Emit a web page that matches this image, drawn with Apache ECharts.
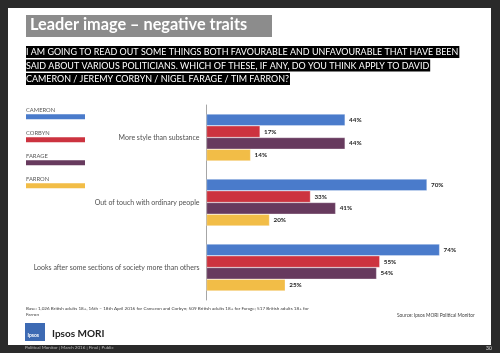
<!DOCTYPE html>
<html>
<head>
<meta charset="utf-8">
<script src="https://cdn.jsdelivr.net/npm/echarts@6/dist/echarts.min.js"></script>
<style>
    html, body { margin: 0; padding: 0; background: #2a2a2a; }
    #chart { width: 500px; height: 353px; }
</style>
</head>
<body>
<div id="chart"></div>
<script>
var traits = ['More style than substance', 'Out of touch with ordinary people', 'Looks after some sections of society more than others'];
var leaders = ['CAMERON', 'CORBYN', 'FARAGE', 'FARRON'];
var cameron = [44, 70, 74];
var corbyn = [17, 33, 55];
var farage = [44, 41, 54];
var farron = [14, 20, 25];
var colors = ['#4a7bcb', '#cc333f', '#673a5e', '#f2bd47'];

var chart = echarts.init(document.getElementById('chart'));

// legend drawn by hand: name above a flat swatch
var legendGraphics = [];
leaders.forEach(function(name, i) {
    var y = 107 + i * 23;
    legendGraphics.push({
        type: 'text', left: 26, top: y,
        style: { text: name, fill: '#595959', font: '5.8px Lato' }
    });
    legendGraphics.push({
        type: 'rect', shape: { x: 26, y: y + 7.3, width: 59, height: 5 },
        style: { fill: colors[i] }
    });
});

var subtitle = [
    'I AM GOING TO READ OUT SOME THINGS BOTH FAVOURABLE AND UNFAVOURABLE THAT HAVE BEEN',
    'SAID ABOUT VARIOUS POLITICIANS. WHICH OF THESE, IF ANY, DO YOU THINK APPLY TO DAVID',
    'CAMERON / JEREMY CORBYN / NIGEL FARAGE / TIM FARRON?'
];
var subGraphics = subtitle.map(function(line, i) {
    return {
        type: 'text', left: 26, top: 46 + i * 13.5,
        style: {
            text: line, fill: '#fff', font: '8.95px Lato',
            backgroundColor: '#000', padding: [1.8, 1, 1.2, 0]
        }
    };
});

var series = [cameron, corbyn, farage, farron].map(function(d, i) {
    return {
        name: leaders[i],
        type: 'bar',
        data: d,
        barWidth: 11.7,
        barGap: '0%',
        itemStyle: { color: colors[i], borderColor: 'rgba(255,255,255,0.6)', borderWidth: 0.5 },
        label: {
            show: true, position: 'right', distance: 4,
            formatter: '{c}%', color: '#262626', fontSize: 6.3, fontWeight: 'bold',
            fontFamily: 'Lato'
        }
    };
});

chart.setOption({
    animation: false,
    backgroundColor: '#2a2a2a',
    grid: { left: 206.5, right: 41.5, top: 105, bottom: 53 },
    xAxis: { type: 'value', min: 0, max: 80, show: false },
    yAxis: {
        type: 'category', inverse: true, data: traits,
        axisLine: { lineStyle: { color: '#a6a6a6', width: 1 } },
        axisTick: { length: 3, lineStyle: { color: '#a6a6a6' } },
        axisLabel: { color: '#505050', fontSize: 7, fontFamily: 'Lato', margin: 7 }
    },
    graphic: [
        { type: 'rect', z: -10, shape: { x: 8, y: 8, width: 483, height: 337 }, style: { fill: '#fff' } },
        { type: 'rect', shape: { x: 26, y: 15, width: 246, height: 22 }, style: { fill: '#8c8c8c' } },
        { type: 'text', left: 30, top: 17, style: { text: 'Leader image \u2013 negative traits', fill: '#fff', font: 'bold 16.3px Lato' } }
    ].concat(subGraphics).concat(legendGraphics).concat([
        { type: 'text', left: 26, top: 306, style: {
            text: 'Base: 1,026 British adults 18+, 16th \u2013 18th April 2016 for Cameron and Corbyn; 509 British adults 18+ for Farage; 517 British adults 18+ for\nFarron',
            fill: '#404040', font: '4.6px Lato', lineHeight: 6 } },
        { type: 'text', left: 397, top: 313, style: { text: 'Source: Ipsos MORI Political Monitor', fill: '#404040', font: '4.8px Lato' } },
        { type: 'rect', shape: { x: 25, y: 323, width: 20, height: 18 }, style: { fill: '#3d6ab3' } },
        { type: 'text', left: 27.5, top: 333, style: { text: 'Ipsos', fill: '#fff', font: 'bold 5px Lato' } },
        { type: 'text', left: 52, top: 329, style: { text: 'Ipsos MORI', fill: '#222', font: 'bold 10px Lato' } },
        { type: 'text', left: 25, top: 345.5, style: { text: 'Political Monitor | March 2016 | Final | Public', fill: '#bbb', font: '4.5px Lato' } },
        { type: 'text', left: 486, top: 345.5, style: { text: '30', fill: '#ddd', font: '5px Lato' } }
    ]),
    series: series
});
</script>
</body>
</html>
